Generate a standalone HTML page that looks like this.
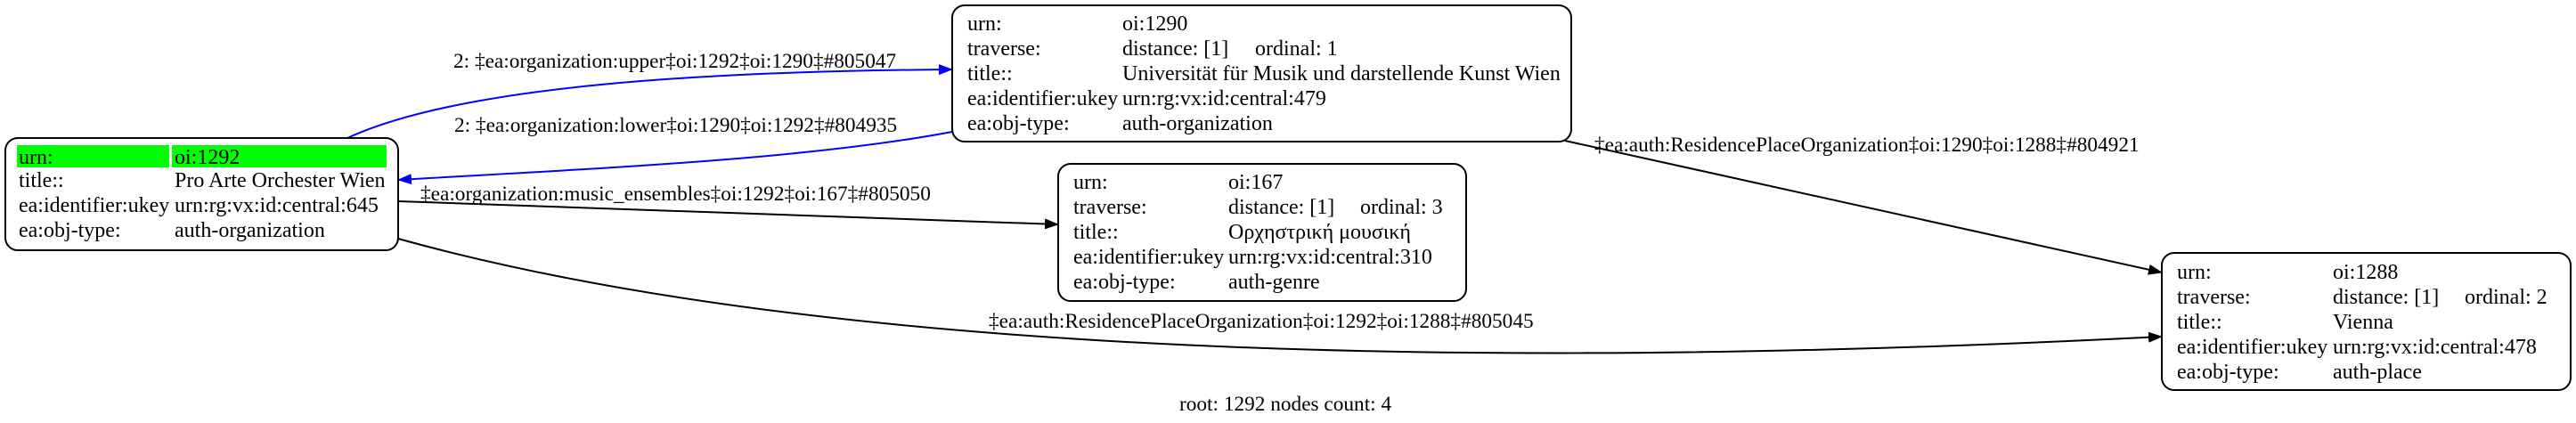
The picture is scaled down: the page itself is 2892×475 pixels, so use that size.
<!DOCTYPE html>
<html><head><meta charset="utf-8"><style>
html,body{margin:0;padding:0;background:#fff;}
svg{display:block;}
text{font-family:"Liberation Serif",serif;font-size:24px;fill:#000;}
text.e{font-size:23.3px;}
</style></head><body>
<svg width="2892" height="475" viewBox="0 0 2892 475" xmlns="http://www.w3.org/2000/svg">
<defs>
<marker id="ab" markerWidth="16" markerHeight="12" refX="15" refY="6" orient="auto" markerUnits="userSpaceOnUse" viewBox="0 0 16 12"><path d="M0,0 L16,6 L0,12 z" fill="#000"/></marker>
<marker id="abl" markerWidth="16" markerHeight="12" refX="15" refY="6" orient="auto" markerUnits="userSpaceOnUse" viewBox="0 0 16 12"><path d="M0,0 L16,6 L0,12 z" fill="#00f"/></marker>
</defs>
<path d="M390,155 C520,95 800,80 1069,78" fill="none" stroke="#00f" stroke-width="2" marker-end="url(#abl)"/>
<path d="M1069,148 C900,180 650,190 447,202" fill="none" stroke="#00f" stroke-width="2" marker-end="url(#abl)"/>
<path d="M447,226 L1188,252" fill="none" stroke="#000" stroke-width="2" marker-end="url(#ab)"/>
<path d="M447,268 C850,380 1500,425 2427,378" fill="none" stroke="#000" stroke-width="2" marker-end="url(#ab)"/>
<path d="M1757,158 L2427,306" fill="none" stroke="#000" stroke-width="2" marker-end="url(#ab)"/>
<text class="e" x="509" y="76">2: ‡ea:organization:upper‡oi:1292‡oi:1290‡#805047</text>
<text class="e" x="510" y="148">2: ‡ea:organization:lower‡oi:1290‡oi:1292‡#804935</text>
<text class="e" x="472" y="225">‡ea:organization:music_ensembles‡oi:1292‡oi:167‡#805050</text>
<text class="e" x="1110" y="368">‡ea:auth:ResidencePlaceOrganization‡oi:1292‡oi:1288‡#805045</text>
<text class="e" x="1790" y="170">‡ea:auth:ResidencePlaceOrganization‡oi:1290‡oi:1288‡#804921</text>
<text class="e" x="1324" y="461">root: 1292 nodes count: 4</text>
<rect x="6" y="155" width="441" height="126" rx="14" fill="#fff" stroke="#000" stroke-width="2"/>
<rect x="19" y="163" width="171" height="25" fill="#0f0"/>
<rect x="193" y="163" width="241" height="25" fill="#0f0"/>
<text x="21" y="184">urn:</text><text x="196" y="184">oi:1292</text>
<text x="21" y="210">title::</text><text x="196" y="210">Pro Arte Orchester Wien</text>
<text x="21" y="238">ea:identifier:ukey</text><text x="196" y="238">urn:rg:vx:id:central:645</text>
<text x="21" y="266">ea:obj-type:</text><text x="196" y="266">auth-organization</text>
<rect x="1069" y="6" width="695" height="153" rx="14" fill="#fff" stroke="#000" stroke-width="2"/>
<text x="1086" y="34">urn:</text><text x="1260" y="34">oi:1290</text>
<text x="1086" y="62">traverse:</text><text x="1260" y="62">distance: [1]</text><text x="1409" y="62">ordinal: 1</text>
<text x="1086" y="90">title::</text><text x="1260" y="90">Universität für Musik und darstellende Kunst Wien</text>
<text x="1086" y="118">ea:identifier:ukey</text><text x="1260" y="118">urn:rg:vx:id:central:479</text>
<text x="1086" y="146">ea:obj-type:</text><text x="1260" y="146">auth-organization</text>
<rect x="1188" y="184" width="458" height="154" rx="14" fill="#fff" stroke="#000" stroke-width="2"/>
<text x="1205" y="212">urn:</text><text x="1379" y="212">oi:167</text>
<text x="1205" y="240">traverse:</text><text x="1379" y="240">distance: [1]</text><text x="1527" y="240">ordinal: 3</text>
<text x="1205" y="268">title::</text><text x="1379" y="268">Ορχηστρική μουσική</text>
<text x="1205" y="296">ea:identifier:ukey</text><text x="1379" y="296">urn:rg:vx:id:central:310</text>
<text x="1205" y="324">ea:obj-type:</text><text x="1379" y="324">auth-genre</text>
<rect x="2427" y="284" width="459" height="154" rx="14" fill="#fff" stroke="#000" stroke-width="2"/>
<text x="2444" y="313">urn:</text><text x="2619" y="313">oi:1288</text>
<text x="2444" y="341">traverse:</text><text x="2619" y="341">distance: [1]</text><text x="2767" y="341">ordinal: 2</text>
<text x="2444" y="369">title::</text><text x="2619" y="369">Vienna</text>
<text x="2444" y="397">ea:identifier:ukey</text><text x="2619" y="397">urn:rg:vx:id:central:478</text>
<text x="2444" y="425">ea:obj-type:</text><text x="2619" y="425">auth-place</text>
</svg>
</body></html>
